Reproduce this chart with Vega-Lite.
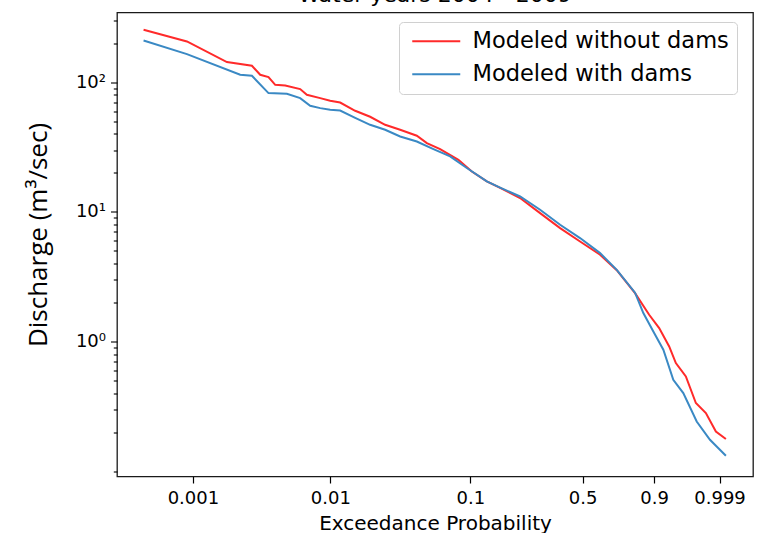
{
  "$schema": "https://vega.github.io/schema/vega-lite/v6.json",
  "width": 636,
  "height": 464,
  "autosize": {"type": "none"},
  "padding": {"left": 117, "top": 12.5, "right": 11, "bottom": 56.5},
  "background": "white",
  "title": {"text": "Water years 2004 - 2009", "fontSize": 22, "font": "DejaVu Sans", "fontWeight": "normal", "color": "#000", "offset": 6, "anchor": "middle"},
  "config": {"view": {"stroke": "#1a1a1a", "strokeWidth": 1.3}},
  "data": {"values": [
    {"series": "Modeled without dams", "z": -7.736, "q": 254},
    {"series": "Modeled without dams", "z": -7.008, "q": 206.5},
    {"series": "Modeled without dams", "z": -6.337, "q": 143.2},
    {"series": "Modeled without dams", "z": -5.917, "q": 134.1},
    {"series": "Modeled without dams", "z": -5.778, "q": 114.3},
    {"series": "Modeled without dams", "z": -5.639, "q": 109.7},
    {"series": "Modeled without dams", "z": -5.526, "q": 95.6},
    {"series": "Modeled without dams", "z": -5.358, "q": 94.5},
    {"series": "Modeled without dams", "z": -5.107, "q": 88.6},
    {"series": "Modeled without dams", "z": -4.995, "q": 80.1},
    {"series": "Modeled without dams", "z": -4.771, "q": 75.5},
    {"series": "Modeled without dams", "z": -4.604, "q": 72.0},
    {"series": "Modeled without dams", "z": -4.436, "q": 69.8},
    {"series": "Modeled without dams", "z": -4.184, "q": 60.3},
    {"series": "Modeled without dams", "z": -3.933, "q": 54.2},
    {"series": "Modeled without dams", "z": -3.681, "q": 47.0},
    {"series": "Modeled without dams", "z": -3.429, "q": 43.0},
    {"series": "Modeled without dams", "z": -3.149, "q": 38.7},
    {"series": "Modeled without dams", "z": -2.981, "q": 33.9},
    {"series": "Modeled without dams", "z": -2.758, "q": 30.5},
    {"series": "Modeled without dams", "z": -2.451, "q": 25.2},
    {"series": "Modeled without dams", "z": -2.226, "q": 20.5},
    {"series": "Modeled without dams", "z": -1.974, "q": 17.2},
    {"series": "Modeled without dams", "z": -1.751, "q": 15.3},
    {"series": "Modeled without dams", "z": -1.416, "q": 12.8},
    {"series": "Modeled without dams", "z": -1.080, "q": 9.79},
    {"series": "Modeled without dams", "z": -0.744, "q": 7.5},
    {"series": "Modeled without dams", "z": -0.409, "q": 5.91},
    {"series": "Modeled without dams", "z": -0.073, "q": 4.67},
    {"series": "Modeled without dams", "z": 0.207, "q": 3.55},
    {"series": "Modeled without dams", "z": 0.514, "q": 2.36},
    {"series": "Modeled without dams", "z": 0.751, "q": 1.607},
    {"series": "Modeled without dams", "z": 0.919, "q": 1.269},
    {"series": "Modeled without dams", "z": 1.087, "q": 0.915},
    {"series": "Modeled without dams", "z": 1.199, "q": 0.681},
    {"series": "Modeled without dams", "z": 1.367, "q": 0.537},
    {"series": "Modeled without dams", "z": 1.535, "q": 0.335},
    {"series": "Modeled without dams", "z": 1.703, "q": 0.28},
    {"series": "Modeled without dams", "z": 1.871, "q": 0.202},
    {"series": "Modeled without dams", "z": 2.039, "q": 0.1766},
    {"series": "Modeled with dams", "z": -7.736, "q": 210},
    {"series": "Modeled with dams", "z": -7.008, "q": 165},
    {"series": "Modeled with dams", "z": -6.114, "q": 114.3},
    {"series": "Modeled with dams", "z": -5.917, "q": 112.2},
    {"series": "Modeled with dams", "z": -5.639, "q": 82.5},
    {"series": "Modeled with dams", "z": -5.330, "q": 81.5},
    {"series": "Modeled with dams", "z": -5.107, "q": 75.5},
    {"series": "Modeled with dams", "z": -4.939, "q": 65.9},
    {"series": "Modeled with dams", "z": -4.771, "q": 63.2},
    {"series": "Modeled with dams", "z": -4.604, "q": 61.3},
    {"series": "Modeled with dams", "z": -4.436, "q": 60.6},
    {"series": "Modeled with dams", "z": -4.184, "q": 53.2},
    {"series": "Modeled with dams", "z": -3.933, "q": 47.0},
    {"series": "Modeled with dams", "z": -3.681, "q": 43.0},
    {"series": "Modeled with dams", "z": -3.429, "q": 38.2},
    {"series": "Modeled with dams", "z": -3.149, "q": 34.9},
    {"series": "Modeled with dams", "z": -2.870, "q": 30.5},
    {"series": "Modeled with dams", "z": -2.590, "q": 26.8},
    {"series": "Modeled with dams", "z": -2.310, "q": 21.8},
    {"series": "Modeled with dams", "z": -1.974, "q": 17.2},
    {"series": "Modeled with dams", "z": -1.751, "q": 15.4},
    {"series": "Modeled with dams", "z": -1.416, "q": 13.15},
    {"series": "Modeled with dams", "z": -1.080, "q": 10.38},
    {"series": "Modeled with dams", "z": -0.744, "q": 7.95},
    {"series": "Modeled with dams", "z": -0.409, "q": 6.28},
    {"series": "Modeled with dams", "z": -0.073, "q": 4.81},
    {"series": "Modeled with dams", "z": 0.207, "q": 3.57},
    {"series": "Modeled with dams", "z": 0.514, "q": 2.38},
    {"series": "Modeled with dams", "z": 0.653, "q": 1.656},
    {"series": "Modeled with dams", "z": 0.821, "q": 1.194},
    {"series": "Modeled with dams", "z": 0.989, "q": 0.863},
    {"series": "Modeled with dams", "z": 1.156, "q": 0.506},
    {"series": "Modeled with dams", "z": 1.324, "q": 0.4},
    {"series": "Modeled with dams", "z": 1.549, "q": 0.2414},
    {"series": "Modeled with dams", "z": 1.772, "q": 0.1744},
    {"series": "Modeled with dams", "z": 1.884, "q": 0.1548},
    {"series": "Modeled with dams", "z": 2.039, "q": 0.1312}
  ]},
  "encoding": {
    "x": {
      "field": "z", "type": "quantitative",
      "scale": {"domain": [-8.182, 2.494], "nice": false, "zero": false},
      "axis": {
        "values": [-6.9073, -4.6002, -2.2504, -0.3665, 0.834, 1.9326],
        "labelExpr": "datum.value < -6 ? '0.001' : datum.value < -4 ? '0.01' : datum.value < -2 ? '0.1' : datum.value < 0 ? '0.5' : datum.value < 1 ? '0.9' : '0.999'",
        "grid": false, "domain": false,
        "tickColor": "#000", "tickSize": 6.5, "tickWidth": 1.2,
        "labelFont": "DejaVu Sans", "labelFontSize": 18, "labelColor": "#000", "labelPadding": 6,
        "title": "Exceedance Probability", "titleFont": "DejaVu Sans", "titleFontSize": 20, "titleFontWeight": "normal", "titleColor": "#000", "titlePadding": 6
      }
    },
    "y": {
      "field": "q", "type": "quantitative",
      "scale": {"type": "log", "domain": [0.0908, 345.6], "nice": false},
      "axis": {
        "values": [0.1, 0.2, 0.3, 0.4, 0.5, 0.6, 0.7, 0.8, 0.9, 1, 2, 3, 4, 5, 6, 7, 8, 9, 10, 20, 30, 40, 50, 60, 70, 80, 90, 100, 200, 300],
        "labelExpr": "datum.value == 1 ? '10⁰' : datum.value == 10 ? '10¹' : datum.value == 100 ? '10²' : ''",
        "tickSize": {"condition": {"test": "datum.value == 1 || datum.value == 10 || datum.value == 100", "value": 6.5}, "value": 3.7},
        "grid": false, "domain": false,
        "tickColor": "#000", "tickWidth": 1.1,
        "labelFont": "DejaVu Sans", "labelFontSize": 18, "labelColor": "#000", "labelPadding": 5,
        "title": "Discharge (m³/sec)", "titleFont": "Open Sans", "titleFontSize": 26, "titleFontWeight": "normal", "titleColor": "#000", "titlePadding": 24, "titleY": 222
      }
    },
    "color": {
      "field": "series", "type": "nominal",
      "scale": {"domain": ["Modeled without dams", "Modeled with dams"], "range": ["#ff2a2a", "#3a89c4"]},
      "legend": {
        "orient": "none", "legendX": 282, "legendY": 9.5, "title": null,
        "labelFont": "DejaVu Sans", "labelFontSize": 22.5, "labelColor": "#000", "labelLimit": 400,
        "symbolType": "M-4,0L4,0", "symbolSize": 144, "symbolStrokeWidth": 2, "symbolOffset": 18,
        "fillColor": "white", "strokeColor": "#d0d0d0", "cornerRadius": 4,
        "padding": 8, "rowPadding": 10, "labelOffset": 25
      }
    }
  },
  "layer": [
    {"transform": [{"filter": "datum.series == 'Modeled without dams'"}], "mark": {"type": "line", "strokeWidth": 2}},
    {"transform": [{"filter": "datum.series == 'Modeled with dams'"}], "mark": {"type": "line", "strokeWidth": 2}}
  ]
}
